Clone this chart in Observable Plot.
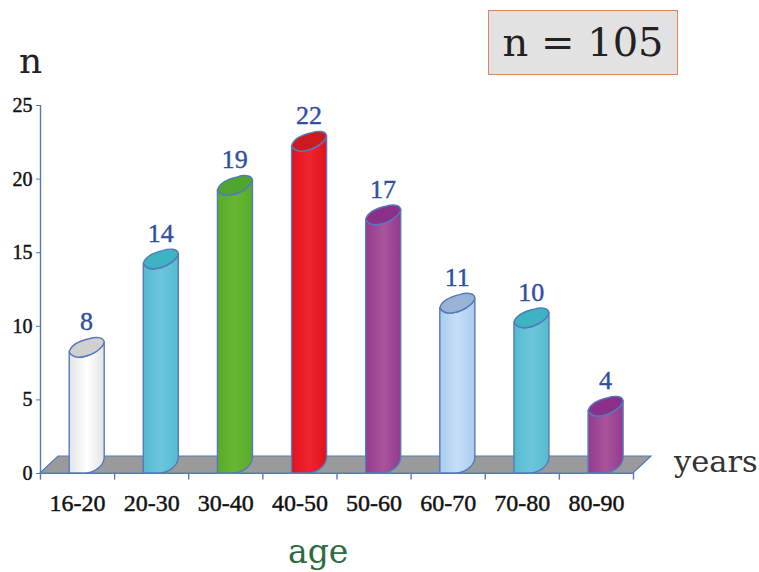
<!DOCTYPE html>
<html>
<head>
<meta charset="utf-8">
<script src="https://cdn.jsdelivr.net/npm/d3@7"></script>
<script src="https://cdn.jsdelivr.net/npm/@observablehq/plot@0.6"></script>
<style>
  html, body { margin: 0; padding: 0; background: #fff; }
  #root { position: relative; width: 759px; height: 572px; overflow: hidden; }
  .note { position: absolute; font-family: "DejaVu Serif", serif; line-height: 1; white-space: nowrap; }
  #count { left: 488px; top: 10px; width: 188px; height: 63px; background: #e2e2e2; border: 1px solid #e2805f;
           color: #222; font-size: 40px; line-height: 63px; text-align: center; }
  svg text { font-family: "Liberation Serif", serif; }
  svg [aria-label="y-axis tick label"] { stroke: #111; stroke-width: 0.45; }
</style>
</head>
<body>
<div id="root"></div>
<script>
const categories = ["16-20", "20-30", "30-40", "40-50", "50-60", "60-70", "70-80", "80-90"];
const counts = [8, 14, 19, 22, 17, 11, 10, 4];
const yTicks = [0, 5, 10, 15, 20, 25];
const palette = ["white", "teal", "green", "red", "purple", "sky", "teal", "purple"];

const shades = {
  white:  {edge: "#e4e4e4", mid: "#ffffff", cap: "#d0d0d0"},
  teal:   {edge: "#55bbd0", mid: "#6cc6dc", cap: "#3cb4c2"},
  green:  {edge: "#58ab2c", mid: "#68b530", cap: "#4ea62c"},
  red:    {edge: "#e2121b", mid: "#ee2430", cap: "#cc1a20"},
  purple: {edge: "#943a8e", mid: "#a8559c", cap: "#8a2f8a"},
  sky:    {edge: "#a9cdef", mid: "#c6def7", cap: "#98b4d4"}
};
const blue = "#5579bd";
const rows = categories.map((c, i) => ({c, i, n: counts[i], tone: palette[i]}));

// Soft horizontal shading for the cylinder bodies.
function gradients() {
  const defs = d3.create("svg:defs");
  for (const [name, s] of Object.entries(shades)) {
    const g = defs.append("linearGradient").attr("id", "shade-" + name);
    g.append("stop").attr("offset", "0%").attr("stop-color", s.edge);
    g.append("stop").attr("offset", "50%").attr("stop-color", s.mid);
    g.append("stop").attr("offset", "100%").attr("stop-color", s.edge);
  }
  return defs.node();
}

// The grey floor, built from the ends of the x scale and the foot of the y scale.
function floor(index, {x, y}) {
  const [x0, x1] = x.domain().map(x);
  const yb = y(0);
  return d3.create("svg:path")
    .attr("d", `M${x0},${yb}L${x0 + 18},${yb - 17}L${x1 + 18},${yb - 17}L${x1},${yb}Z`)
    .attr("fill", "#9a9a9a").attr("stroke", blue).attr("stroke-width", 1.2).node();
}

// Each rectY bar is redrawn as a cylinder with its shaded body and its cap.
function cylinder(index, {x, y}, values) {
  const g = d3.create("svg:g");
  const yb = y(0);
  for (const k of index) {
    const row = rows[k];
    const L = x(row.i) + 29.2, R = L + 35;
    const yt = y(row.n) + 1.5;
    const lift = 15;
    g.append("path")
      .attr("d", `M${L},${yt - 5}C${L + 3},${yt + 1} ${L + 10},${yt + 1} ${L + 14},${yt}` +
                 `C${L + 22},${yt - 1} ${R - 1},${yt - 8} ${R},${yt - lift}` +
                 `L${R},${yb - lift}C${R - 1},${yb - 6} ${L + 24},${yb} ${L + 16},${yb}L${L},${yb}Z`)
      .attr("fill", `url(#shade-${row.tone})`).attr("stroke", blue).attr("stroke-width", 1.4);
    g.append("path")
      .attr("d", `M${L},${yt - 5}C${L + 3},${yt + 1} ${L + 10},${yt + 1} ${L + 14},${yt}` +
                 `C${L + 22},${yt - 1} ${R - 1},${yt - 8} ${R},${yt - lift}` +
                 `C${R - 1},${yt - 20} ${L + 26},${yt - 20} ${L + 20},${yt - 18}` +
                 `C${L + 11},${yt - 16} ${L + 2},${yt - 12} ${L},${yt - 5}Z`)
      .attr("fill", shades[row.tone].cap).attr("stroke", blue).attr("stroke-width", 1.4);
  }
  return g.node();
}

const chart = Plot.plot({
  width: 759,
  height: 572,
  marginLeft: 40,
  marginRight: 126,
  marginTop: 105,
  marginBottom: 99,
  style: {background: "transparent", overflow: "visible"},
  x: {domain: [0, categories.length], axis: null},
  y: {domain: [0, 25], axis: null},
  marks: [
    gradients,
    floor,
    Plot.rectY(rows, {x1: "i", x2: d => d.i + 1, y: "n", render: cylinder}),
    Plot.ruleX([0], {y1: 0, y2: 25, stroke: blue, strokeWidth: 1.4}),
    Plot.ruleX(d3.range(categories.length + 1), {y1: 0, y2: -0.45, stroke: blue, strokeWidth: 1.4}),
    Plot.ruleY([0], {stroke: blue, strokeWidth: 1.2}),
    Plot.axisY({ticks: yTicks, tickSize: 4, stroke: blue, fill: "#111", label: null, fontSize: 20, tickPadding: 4}),
    Plot.text(rows, {x: d => d.i + 0.5, y: 0, text: "c", dy: 30, fontSize: 24, fill: "#111", stroke: "#111", strokeWidth: 0.45}),
    Plot.text(rows, {x: d => d.i + 0.5, y: "n", text: d => String(d.n), dx: 9, dy: -34, fontSize: 26, fill: "#2f4fa3", stroke: "#2f4fa3", strokeWidth: 0.4})
  ]
});

const root = document.getElementById("root");
root.appendChild(chart);
chart.style.position = "absolute";
chart.style.left = "0";
chart.style.top = "0";

const notes = [
  {id: "count", text: "n = 105"},
  {text: "n", left: 19, top: 43, size: 36, color: "#222"},
  {text: "years", left: 674, top: 447, size: 30.5, color: "#333"},
  {text: "age", left: 288, top: 535, size: 33, color: "#2e6b41"}
];
for (const note of notes) {
  const el = document.createElement("div");
  el.className = "note";
  el.textContent = note.text;
  if (note.id) el.id = note.id;
  else {
    el.style.left = note.left + "px";
    el.style.top = note.top + "px";
    el.style.fontSize = note.size + "px";
    el.style.color = note.color;
  }
  root.appendChild(el);
}
</script>
</body>
</html>
